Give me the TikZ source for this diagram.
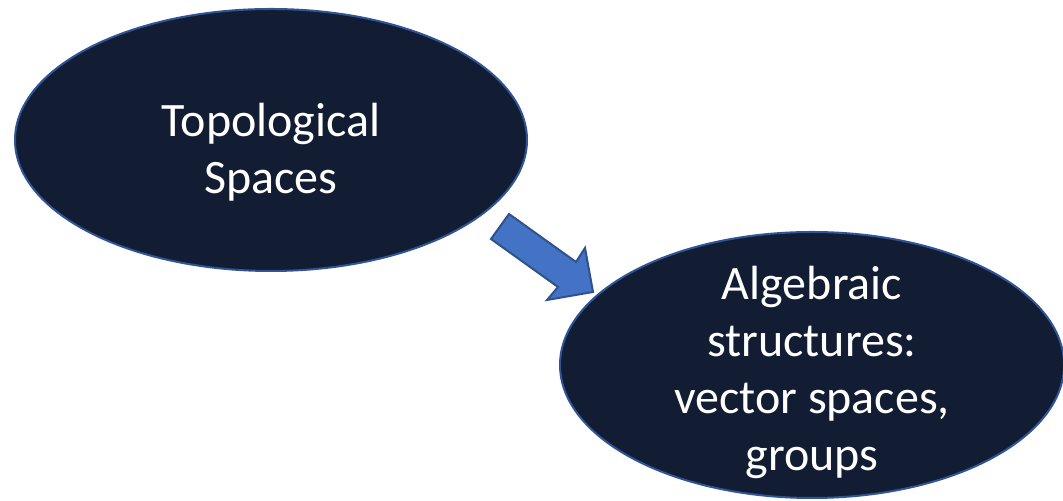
\documentclass[tikz,border=0pt]{standalone}
\usepackage{fontspec}
\setmainfont{Carlito}
\usetikzlibrary{shapes.geometric}
\definecolor{navy}{HTML}{121D33}
\definecolor{rimblue}{HTML}{2F5597}
\definecolor{arrowblue}{HTML}{4472C4}
\definecolor{arrowrim}{HTML}{2F528F}
\tikzset{blob/.style={ellipse, draw=rimblue, line width=1pt, fill=navy, inner sep=0pt},
    words/.style={text=white, inner sep=0pt, align=center, font=\fontsize{24}{28.5}\selectfont}}
\begin{document}
\begin{tikzpicture}[x=0.5pt,y=0.5pt]
        \useasboundingbox (0,0) rectangle (1063,501);
        \node[blob, minimum width=256pt, minimum height=131pt] (topo) at (271,361) {};
        \node[blob, minimum width=252pt, minimum height=133pt] (alg) at (812,136) {};
        \node[words] (topotext) at ([yshift=-6pt]topo.center) {Topological\\Spaces};
        \node[words] (algtext) at ([yshift=-3.5pt]alg.center) {Algebraic\\structures:\\vector spaces,\\groups};
        \draw[fill=arrowblue, draw=arrowrim, line width=1pt, line join=miter] (509,287) -- (491,262)
        -- (558,214) -- (547,201) -- (593,209) -- (585,253) -- (576,239) -- cycle;
    \end{tikzpicture}
\end{document}
